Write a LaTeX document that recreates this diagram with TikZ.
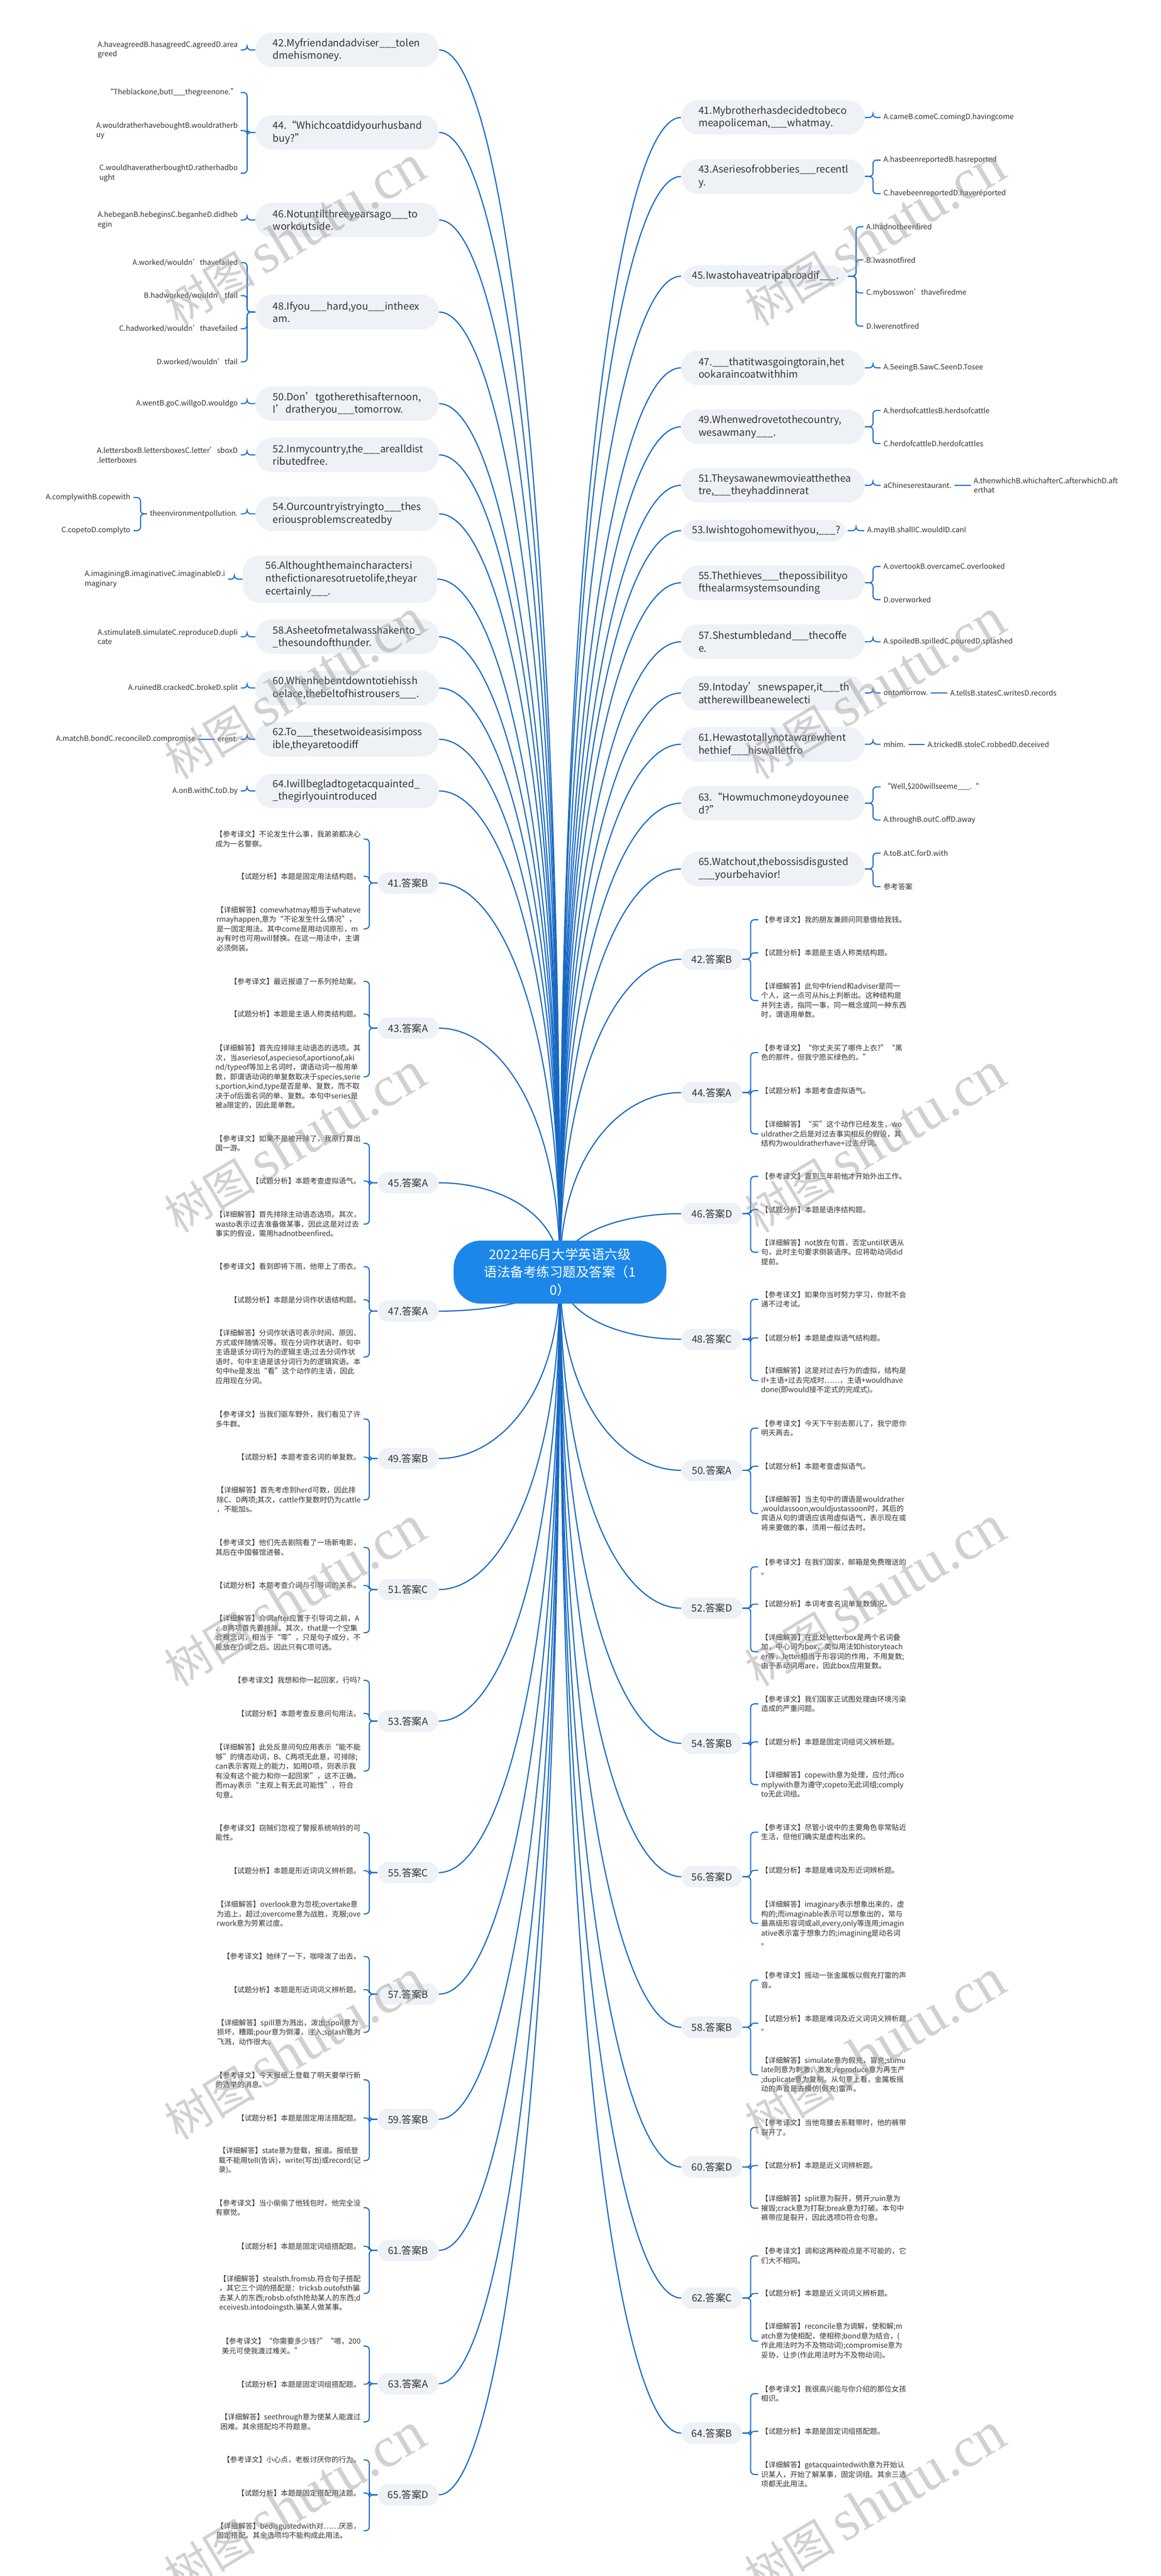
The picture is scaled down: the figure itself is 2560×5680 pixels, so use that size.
\documentclass[tikz,border=0pt]{standalone}
\usepackage{fontspec}
\setmainfont{Noto Sans CJK SC}
\newfontfamily\wmserif{Liberation Serif}
\usetikzlibrary{calc}
\definecolor{qfill}{RGB}{238,241,245}
\definecolor{linec}{RGB}{22,104,196}
\definecolor{rootc}{RGB}{28,135,232}
\definecolor{txt}{RGB}{51,51,51}
\pgfdeclarelayer{bg}\pgfdeclarelayer{fg}\pgfsetlayers{bg,main,fg}
\newcommand\blk{\_\_\_}
\newcommand\qf{\fontsize{6.6pt}{8.4pt}\selectfont\hyphenpenalty=10000\exhyphenpenalty=10000}
\newcommand\smf{\fontsize{4.8pt}{6.3pt}\selectfont}
\newcommand\rootf{\fontsize{8.7pt}{11.7pt}\selectfont}
\newcommand\wmtext{{\fontsize{30pt}{30pt}\selectfont 树图}\hspace{6pt}{\wmserif\fontsize{38pt}{38pt}\selectfont shutu.cn}}
\tikzset{
 qn/.style={fill=qfill, rounded corners=11pt, text=txt, font=\qf, align=left, inner xsep=11.4pt, inner ysep=0pt, text width=98.4pt, minimum height=22.8pt, anchor=west},
 ans/.style={fill=qfill, rounded corners=7pt, text=txt, font=\qf, inner sep=0pt, minimum width=40.2pt, minimum height=14.1pt},
 opt/.style={text=txt, font=\smf, align=left, inner xsep=1.8pt, inner ysep=1pt},
 conn/.style={draw=linec, line width=0.75pt},
 br/.style={draw=linec, line width=0.7pt, rounded corners=2.4pt},
 rootbox/.style={fill=rootc, text=white, font=\rootf, align=center, rounded corners=18pt, minimum width=140.7pt, minimum height=41.7pt, inner sep=0pt},
 wm/.style={text=black!40, text opacity=0.45, rotate=31}
}
\newcommand\linkL[2]{\pgfmathsetmacro\cyy{0.65*(#2-2805)}%
 \begin{pgfonlayer}{bg}\draw[conn] (#1.east) .. controls +(134,0) and +(0,\cyy) .. (root.center);\end{pgfonlayer}}
\newcommand\linkR[2]{\pgfmathsetmacro\cyy{0.65*(#2-2805)}%
 \begin{pgfonlayer}{bg}\draw[conn] (#1.west) .. controls +(-134,0) and +(0,\cyy) .. (root.center);\end{pgfonlayer}}
\newcommand\optL[4]{\node[opt,anchor=east] (#2) at (#3) {#4};\draw[br] (#1.west) -- ++(-18,0) |- (#2.east);}
\newcommand\optR[4]{\node[opt,anchor=west] (#2) at (#3) {#4};\draw[br] (#1.east) -- ++(18,0) |- (#2.west);}
\newcommand\ansL[9]{%
 \node[ans] (#1) at (900,#2) {#3};
 \node[opt,anchor=east] (#1a) at (802,#4) {#5};
 \node[opt,anchor=east] (#1b) at (802,#6) {#7};
 \node[opt,anchor=east] (#1c) at (802,#8) {#9};
 \draw[br] (#1.west) -- ++(-18,0) |- (#1a.east);
 \draw[br] (#1.west) -- ++(-18,0) |- (#1b.east);
 \draw[br] (#1.west) -- ++(-18,0) |- (#1c.east);
 \linkL{#1}{#2}}
\newcommand\ansR[9]{%
 \node[ans] (#1) at (1570,#2) {#3};
 \node[opt,anchor=west] (#1a) at (1672,#4) {#5};
 \node[opt,anchor=west] (#1b) at (1672,#6) {#7};
 \node[opt,anchor=west] (#1c) at (1672,#8) {#9};
 \draw[br] (#1.east) -- ++(18,0) |- (#1a.west);
 \draw[br] (#1.east) -- ++(18,0) |- (#1b.west);
 \draw[br] (#1.east) -- ++(18,0) |- (#1c.west);
 \linkR{#1}{#2}}
\begin{document}
\begin{tikzpicture}[x=0.3pt,y=-0.3pt]
\useasboundingbox (0,0) rectangle (2560,5680);
\begin{pgfonlayer}{bg}\fill[white] (0,0) rectangle (2560,5680);\end{pgfonlayer}
\node[rootbox] (root) at (1235,2805) {2022年6月大学英语六级\\语法备考练习题及答案（1\\0）};

% ---------- left questions ----------
\node[qn] (q42) at (563,110) {42.Myfriendandadviser\blk tolen\\dmehismoney.};
\optL{q42}{o42}{531,110}{A.haveagreedB.hasagreedC.agreedD.area\\greed}
\linkL{q42}{110}

\node[qn] (q44) at (563,292) {44.“Whichcoatdidyourhusband\\buy?”};
\optL{q44}{o44a}{531,204}{“Theblackone,butI\blk thegreenone.”}
\optL{q44}{o44b}{531,288}{A.wouldratherhaveboughtB.wouldratherb\\uy}
\optL{q44}{o44c}{531,382}{C.wouldhaveratherboughtD.ratherhadbo\\ught}
\linkL{q44}{292}

\node[qn] (q46) at (563,485) {46.Notuntilthreeyearsago\blk to\\workoutside.};
\optL{q46}{o46}{531,485}{A.hebeganB.hebeginsC.beganheD.didheb\\egin}
\linkL{q46}{485}

\node[qn] (q48) at (563,688) {48.Ifyou\blk hard,you\blk intheex\\am.};
\optL{q48}{o48a}{531,579}{A.worked/wouldn’thavefailed}
\optL{q48}{o48b}{531,652}{B.hadworked/wouldn’tfail}
\optL{q48}{o48c}{531,725}{C.hadworked/wouldn’thavefailed}
\optL{q48}{o48d}{531,798}{D.worked/wouldn’tfail}
\linkL{q48}{688}

\node[qn] (q50) at (563,890) {50.Don’tgotherethisafternoon,\\I’dratheryou\blk tomorrow.};
\optL{q50}{o50}{531,890}{A.wentB.goC.willgoD.wouldgo}
\linkL{q50}{890}

\node[qn] (q52) at (563,1003) {52.Inmycountry,the\blk arealldist\\ributedfree.};
\optL{q52}{o52}{531,1003}{A.lettersboxB.lettersboxesC.letter’sboxD\\.letterboxes}
\linkL{q52}{1003}

\node[qn] (q54) at (563,1133) {54.Ourcountryistryingto\blk thes\\eriousproblemscreatedby};
\optL{q54}{m54}{531,1133}{theenvironmentpollution.}
\node[opt,anchor=east] (o54a) at ([xshift=-9pt,yshift=10.8pt]m54.west) {A.complywithB.copewith};
\node[opt,anchor=east] (o54b) at ([xshift=-9pt,yshift=-11.1pt]m54.west) {C.copetoD.complyto};
\draw[br] (m54.west) -- ++(-14,0) |- (o54a.east);
\draw[br] (m54.west) -- ++(-14,0) |- (o54b.east);
\linkL{q54}{1133}

\node[qn,text width=98.4pt,inner xsep=15pt,minimum height=31.2pt] (q56) at (535,1277) {56.Althoughthemaincharactersi\\nthefictionaresotruetolife,theyar\\ecertainly\blk.};
\optL{q56}{o56}{503,1277}{A.imaginingB.imaginativeC.imaginableD.i\\maginary}
\linkL{q56}{1277}

\node[qn] (q58) at (563,1404) {58.Asheetofmetalwasshakento\_\\\_thesoundofthunder.};
\optL{q58}{o58}{531,1404}{A.stimulateB.simulateC.reproduceD.dupli\\cate}
\linkL{q58}{1404}

\node[qn] (q60) at (563,1517) {60.Whenhebentdowntotiehissh\\oelace,thebeltofhistrousers\blk.};
\optL{q60}{o60}{531,1517}{A.ruinedB.crackedC.brokeD.split}
\linkL{q60}{1517}

\node[qn] (q62) at (563,1630) {62.To\blk thesetwoideasisimposs\\ible,theyaretoodiff};
\optL{q62}{m62}{531,1630}{erent.}
\node[opt,anchor=east] (c62) at ([xshift=-10.8pt]m62.west) {A.matchB.bondC.reconcileD.compromise};
\draw[br] (m62.west) -- (c62.east);
\linkL{q62}{1630}

\node[qn] (q64) at (563,1744) {64.Iwillbegladtogetacquainted\_\\\_thegirlyouintroduced};
\optL{q64}{o64}{531,1744}{A.onB.withC.toD.by}
\linkL{q64}{1744}

% ---------- right questions ----------
\node[qn] (q41) at (1502,259) {41.Mybrotherhasdecidedtobeco\\meapoliceman,\blk whatmay.};
\optR{q41}{o41}{1942,259}{A.cameB.comeC.comingD.havingcome}
\linkR{q41}{259}

\node[qn] (q43) at (1502,389) {43.Aseriesofrobberies\blk recentl\\y.};
\optR{q43}{o43a}{1942,353}{A.hasbeenreportedB.hasreported}
\optR{q43}{o43b}{1942,427}{C.havebeenreportedD.havereported}
\linkR{q43}{389}

\node[qn,text width=96pt,inner xsep=7pt,minimum height=14.4pt] (q45) at (1502,609) {45.Iwastohaveatripabroadif\blk.};
\optR{q45}{o45a}{1904,500}{A.Ihadnotbeenfired}
\optR{q45}{o45b}{1904,573}{B.Iwasnotfired}
\optR{q45}{o45c}{1904,646}{C.mybosswon’thavefiredme}
\optR{q45}{o45d}{1904,719}{D.Iwerenotfired}
\linkR{q45}{609}

\node[qn] (q47) at (1502,811) {47.\blk thatitwasgoingtorain,het\\ookaraincoatwithhim};
\optR{q47}{o47}{1942,811}{A.SeeingB.SawC.SeenD.Tosee}
\linkR{q47}{811}

\node[qn] (q49) at (1502,941) {49.Whenwedrovetothecountry,\\wesawmany\blk.};
\optR{q49}{o49a}{1942,905}{A.herdsofcattlesB.herdsofcattle}
\optR{q49}{o49b}{1942,978}{C.herdofcattleD.herdofcattles}
\linkR{q49}{941}

\node[qn] (q51) at (1502,1070) {51.Theysawanewmovieatthethea\\tre,\blk theyhaddinnerat};
\optR{q51}{m51}{1942,1070}{aChineserestaurant.}
\node[opt,anchor=west] (c51) at ([xshift=10.8pt]m51.east) {A.thenwhichB.whichafterC.afterwhichD.aft\\erthat};
\draw[br] (m51.east) -- (c51.west);
\linkR{q51}{1070}

\node[qn,text width=96pt,inner xsep=7pt,minimum height=14.4pt] (q53) at (1502,1170) {53.Iwishtogohomewithyou,\blk?};
\optR{q53}{o53}{1906,1170}{A.mayIB.shallIC.wouldID.canI}
\linkR{q53}{1170}

\node[qn] (q55) at (1502,1285) {55.Thethieves\blk thepossibilityo\\fthealarmsystemsounding};
\optR{q55}{o55a}{1942,1249}{A.overtookB.overcameC.overlooked}
\optR{q55}{o55b}{1942,1322}{D.overworked}
\linkR{q55}{1285}

\node[qn] (q57) at (1502,1415) {57.Shestumbledand\blk thecoffe\\e.};
\optR{q57}{o57}{1942,1415}{A.spoiledB.spilledC.pouredD.splashed}
\linkR{q57}{1415}

\node[qn] (q59) at (1502,1528) {59.Intoday’snewspaper,it\blk th\\attherewillbeanewelecti};
\optR{q59}{m59}{1942,1528}{ontomorrow.}
\node[opt,anchor=west] (c59) at ([xshift=10.8pt]m59.east) {A.tellsB.statesC.writesD.records};
\draw[br] (m59.east) -- (c59.west);
\linkR{q59}{1528}

\node[qn] (q61) at (1502,1641) {61.Hewastotallynotawarewhent\\hethief\blk hiswalletfro};
\optR{q61}{m61}{1942,1641}{mhim.}
\node[opt,anchor=west] (c61) at ([xshift=10.8pt]m61.east) {A.trickedB.stoleC.robbedD.deceived};
\draw[br] (m61.east) -- (c61.west);
\linkR{q61}{1641}

\node[qn] (q63) at (1502,1771) {63.“Howmuchmoneydoyounee\\d?”};
\optR{q63}{o63a}{1942,1735}{“Well,\$200willseeme\blk.“}
\optR{q63}{o63b}{1942,1808}{A.throughB.outC.offD.away}
\linkR{q63}{1771}

\node[qn] (q65) at (1502,1916) {65.Watchout,thebossisdisgusted\\\blk yourbehavior!};
\optR{q65}{o65a}{1942,1881}{A.toB.atC.forD.with}
\optR{q65}{o65b}{1942,1955}{参考答案}
\linkR{q65}{1916}

% ---------- left answers ----------
\ansL{L41}{1947}{41.答案B}{1850}{【参考译文】不论发生什么事，我弟弟都决心\\成为一名警察。}{1932}{【试题分析】本题是固定用法结构题。}{2048}{【详细解答】comewhatmay相当于whateve\\rmayhappen,意为“不论发生什么情况”，\\是一固定用法。其中come是用动词原形，m\\ay有时也可用will替换。在这一用法中，主谓\\必须倒装。}
\ansL{L43}{2267}{43.答案A}{2164}{【参考译文】最近报道了一系列抢劫案。}{2236}{【试题分析】本题是主语人称类结构题。}{2374}{【详细解答】首先应排除主动语态的选项。其\\次，当aseriesof,aspeciesof,aportionof,aki\\nd/typeof等加上名词时，谓语动词一般用单\\数，即谓语动词的单复数取决于species,serie\\s,portion,kind,type是否是单、复数，而不取\\决于of后面名词的单、复数。本句中series是\\被a限定的，因此是单数。}
\ansL{L45}{2608}{45.答案A}{2521}{【参考译文】如果不是被开除了，我原打算出\\国一游。}{2604}{【试题分析】本题考查虚拟语气。}{2699}{【详细解答】首先排除主动语态选项。其次，\\wasto表示过去准备做某事，因此这是对过去\\事实的假设，需用hadnotbeenfired。}
\ansL{L47}{2891}{47.答案A}{2793}{【参考译文】看到即将下雨，他带上了雨衣。}{2866}{【试题分析】本题是分词作状语结构题。}{2992}{【详细解答】分词作状语可表示时间、原因、\\方式或伴随情况等。现在分词作状语时，句中\\主语是该分词行为的逻辑主语;过去分词作状\\语时，句中主语是该分词行为的逻辑宾语。本\\句中he是发出“看”这个动作的主语，因此\\应用现在分词。}
\ansL{L49}{3216}{49.答案B}{3129}{【参考译文】当我们驱车野外，我们看见了许\\多牛群。}{3213}{【试题分析】本题考查名词的单复数。}{3307}{【详细解答】首先考虑到herd可数，因此排\\除C、D两项;其次，cattle作复数时仍为cattle\\，不能加s。}
\ansL{L51}{3505}{51.答案C}{3412}{【参考译文】他们先去剧院看了一场新电影，\\其后在中国餐馆进餐。}{3496}{【试题分析】本题考查介词与引导词的关系。}{3600}{【详细解答】介词after应置于引导词之前，A\\、B两项首先要排除。其次，that是一个空集\\合概念词，相当于“零”，只是句子成分，不\\能放在介词之后。因此只有C项可选。}
\ansL{L53}{3795}{53.答案A}{3705}{【参考译文】我想和你一起回家，行吗?}{3778}{【试题分析】本题考查反意问句用法。}{3905}{【详细解答】此处反意问句应用表示“能不能\\够”的情态动词，B、C两项无此意，可排除;\\can表示客观上的能力，如用D项，则表示我\\有没有这个能力和你一起回家”，这不正确。\\而may表示“主观上有无此可能性”，符合\\句意。}
\ansL{L55}{4129}{55.答案C}{4041}{【参考译文】窃贼们忽视了警报系统响铃的可\\能性。}{4125}{【试题分析】本题是形近词词义辨析题。}{4220}{【详细解答】overlook意为忽视;overtake意\\为追上，超过;overcome意为战胜，克服;ove\\rwork意为劳累过度。}
\ansL{L57}{4397}{57.答案B}{4314}{【参考译文】她绊了一下，咖啡泼了出去。}{4387}{【试题分析】本题是形近词词义辨析题。}{4481}{【详细解答】spill意为溅出，泼出;spoil意为\\损坏，糟蹋;pour意为倒灌，注入;splash意为\\飞溅，动作很大。}
\ansL{L59}{4673}{59.答案B}{4586}{【参考译文】今天报纸上登载了明天要举行新\\的选举的消息。}{4670}{【试题分析】本题是固定用法搭配题。}{4764}{【详细解答】state意为登载，报道。报纸登\\载不能用tell(告诉)，write(写出)或record(记\\录)。}
\ansL{L61}{4962}{61.答案B}{4868}{【参考译文】当小偷偷了他钱包时，他完全没\\有察觉。}{4953}{【试题分析】本题是固定词组搭配题。}{5057}{【详细解答】stealsth.fromsb.符合句子搭配\\，其它三个词的搭配是：tricksb.outofsth骗\\去某人的东西;robsb.ofsth抢劫某人的东西;d\\eceivesb.intodoingsth.骗某人做某事。}
\ansL{L63}{5256}{63.答案A}{5173}{【参考译文】“你需要多少钱?”“嗯，200\\美元可使我渡过难关。”}{5257}{【试题分析】本题是固定词组搭配题。}{5340}{【详细解答】seethrough意为使某人能渡过\\困难。其余搭配均不符题意。}
\ansL{L65}{5501}{65.答案D}{5424}{【参考译文】小心点，老板讨厌你的行为。}{5497}{【试题分析】本题是固定搭配用法题。}{5580}{【详细解答】bedisgustedwith对……厌恶，\\固定搭配。其余选项均不能构成此用法。}

% ---------- right answers ----------
\ansR{R42}{2115}{42.答案B}{2028}{【参考译文】我的朋友兼顾问同意借给我钱。}{2101}{【试题分析】本题是主语人称类结构题。}{2206}{【详细解答】此句中friend和adviser是同一\\个人，这一点可从his上判断出。这种结构是\\并列主语，指同一事，同一概念或同一种东西\\时，谓语用单数。}
\ansR{R44}{2409}{44.答案A}{2321}{【参考译文】“你丈夫买了哪件上衣?”“黑\\色的那件，但我宁愿买绿色的。”}{2405}{【试题分析】本题考查虚拟语气。}{2500}{【详细解答】“买”这个动作已经发生，wo\\uldrather之后是对过去事实相反的假设，其\\结构为wouldratherhave+过去分词。}
\ansR{R46}{2676}{46.答案D}{2594}{【参考译文】直到三年前他才开始外出工作。}{2667}{【试题分析】本题是语序结构题。}{2761}{【详细解答】not放在句首，否定until状语从\\句，此时主句要求倒装语序。应将助动词did\\提前。}
\ansR{R48}{2953}{48.答案C}{2865}{【参考译文】如果你当时努力学习，你就不会\\通不过考试。}{2950}{【试题分析】本题是虚拟语气结构题。}{3044}{【详细解答】这是对过去行为的虚拟，结构是\\If+主语+过去完成时……，主语+wouldhave\\done(即would接不定式的完成式)。}
\ansR{R50}{3242}{50.答案A}{3149}{【参考译文】今天下午别去那儿了，我宁愿你\\明天再去。}{3233}{【试题分析】本题考查虚拟语气。}{3337}{【详细解答】当主句中的谓语是wouldrather\\,wouldassoon,wouldjustassoon时，其后的\\宾语从句的谓语应该用虚拟语气，表示现在或\\将来要做的事，须用一般过去时。}
\ansR{R52}{3546}{52.答案D}{3455}{【参考译文】在我们国家，邮箱是免费赠送的\\。}{3537}{【试题分析】本词考查名词单复数情况。}{3642}{【详细解答】在此处letterbox是两个名词叠\\加，中心词为box，类似用法如historyteach\\er等，letter相当于形容词的作用，不用复数;\\由于系动词用are，因此box应用复数。}
\ansR{R54}{3844}{54.答案B}{3757}{【参考译文】我们国家正试图处理由环境污染\\造成的严重问题。}{3841}{【试题分析】本题是固定词组词义辨析题。}{3935}{【详细解答】copewith意为处理，应付;而co\\mplywith意为遵守;copeto无此词组;comply\\to无此词组。}
\ansR{R56}{4138}{56.答案D}{4040}{【参考译文】尽管小说中的主要角色非常贴近\\生活，但他们确实是虚构出来的。}{4124}{【试题分析】本题是难词及形近词辨析题。}{4241}{【详细解答】imaginary表示想象出来的，虚\\构的;而imaginable表示可以想象出的，常与\\最高级形容词或all,every,only等连用;imagin\\ative表示富于想象力的;imagining是动名词\\。}
\ansR{R58}{4470}{58.答案B}{4366}{【参考译文】摇动一张金属板以假充打雷的声\\音。}{4461}{【试题分析】本题是难词及近义词词义辨析题\\。}{4575}{【详细解答】simulate意为假充，冒充;stimu\\late则意为刺激，激发;reproduce意为再生产\\;duplicate意为复制。从句意上看，金属板摇\\动的声音是去模仿(假充)雷声。}
\ansR{R60}{4778}{60.答案D}{4691}{【参考译文】当他弯腰去系鞋带时，他的裤带\\裂开了。}{4775}{【试题分析】本题是近义词辨析题。}{4869}{【详细解答】split意为裂开，劈开;ruin意为\\摧毁;crack意为打裂;break意为打破。本句中\\裤带应是裂开，因此选项D符合句意。}
\ansR{R62}{5067}{62.答案C}{4974}{【参考译文】调和这两种观点是不可能的，它\\们大不相同。}{5057}{【试题分析】本题是近义词词义辨析题。}{5162}{【详细解答】reconcile意为调解，使和解;m\\atch意为使相配，使相称;bond意为结合，(\\作此用法时为不及物动词);compromise意为\\妥协，让步(作此用法时为不及物动词)。}
\ansR{R64}{5365}{64.答案B}{5278}{【参考译文】我很高兴能与你介绍的那位女孩\\相识。}{5361}{【试题分析】本题是固定词组搭配题。}{5456}{【详细解答】getacquaintedwith意为开始认\\识某人，开始了解某事，固定词组。其余三选\\项都无此用法。}

% ---------- watermarks ----------
\begin{pgfonlayer}{fg}
\foreach \wy [count=\i] in {520,1520,2520,3520,4520,5520} {
 \node[wm] (wmL\i) at (650,\wy) {\wmtext};
 \node[wm] (wmR\i) at (1930,\wy) {\wmtext};
}
\end{pgfonlayer}
\end{tikzpicture}
\end{document}
